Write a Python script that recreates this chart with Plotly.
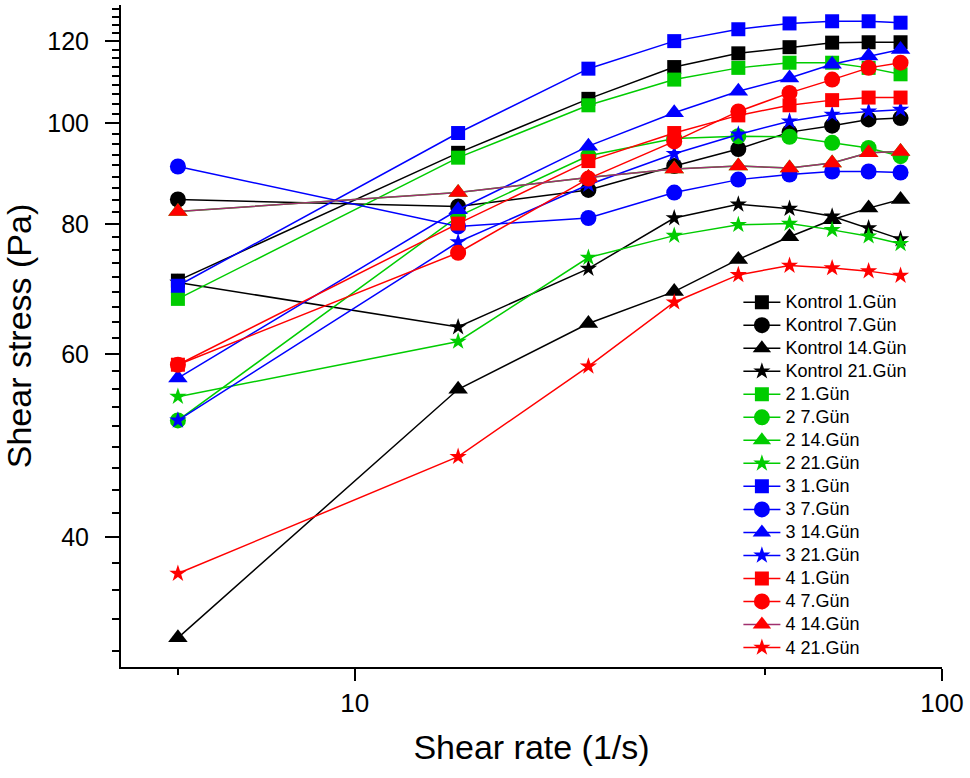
import plotly.graph_objects as go

# Shear rate steps (1/s)
shear_rate = [5, 15, 25, 35, 45, 55, 65, 75, 85]

# Shear stress (Pa) per sample and storage day
kontrol_1 = [70.6, 93.7, 105.6, 113.3, 116.8, 118.4, 119.6, 119.7, 119.7]
kontrol_7 = [84.5, 83.2, 86.3, 91.0, 94.5, 98.1, 99.5, 100.9, 101.2]
kontrol_14 = [32.0, 55.5, 64.2, 68.9, 74.0, 77.8, 80.8, 82.9, 84.5]
kontrol_21 = [70.3, 63.7, 72.5, 81.1, 83.6, 82.8, 81.4, 79.3, 77.4]
s2_1 = [67.8, 92.7, 104.1, 110.2, 113.1, 114.4, 114.4, 113.1, 111.5]
s2_7 = [51.8, 81.4, 93.1, 96.7, 97.2, 97.1, 95.8, 94.7, 93.0]
s2_14 = [82.3, 85.8, 88.7, 90.4, 91.0, 90.6, 91.6, 93.7, 94.0]
s2_21 = [54.6, 61.7, 74.3, 78.0, 79.9, 80.1, 79.0, 77.9, 76.6]
s3_1 = [69.8, 97.9, 112.9, 120.0, 123.2, 124.8, 125.4, 125.4, 125.0]
s3_7 = [90.9, 79.6, 81.1, 85.8, 88.3, 89.3, 89.9, 89.9, 89.7]
s3_14 = [56.9, 82.6, 95.1, 102.4, 107.4, 110.6, 114.0, 116.1, 117.8]
s3_21 = [51.8, 76.9, 87.3, 93.5, 97.6, 100.5, 102.0, 102.7, 103.1]
s4_1 = [58.6, 80.1, 92.0, 97.9, 101.8, 104.1, 105.3, 105.9, 105.9]
s4_7 = [58.6, 75.1, 88.5, 96.1, 102.7, 107.0, 110.2, 113.1, 114.4]
s4_14 = [82.3, 85.8, 88.7, 90.4, 91.0, 90.6, 91.6, 93.7, 94.0]
s4_21 = [36.9, 47.8, 58.4, 67.3, 71.5, 73.0, 72.6, 72.1, 71.4]

x_ticks = [10, 100]
x_minor = [5, 50]
y_ticks = [40, 60, 80, 100, 120]

BLACK = "#000000"
GREEN = "#00CC00"
BLUE = "#0000FF"
RED = "#FF0000"
WINE = "#A0306E"

series = [
    ("Kontrol 1.Gün", kontrol_1, BLACK, BLACK, "square"),
    ("Kontrol 7.Gün", kontrol_7, BLACK, BLACK, "circle"),
    ("Kontrol 14.Gün", kontrol_14, BLACK, BLACK, "triangle-up"),
    ("Kontrol 21.Gün", kontrol_21, BLACK, BLACK, "star"),
    ("2 1.Gün", s2_1, GREEN, GREEN, "square"),
    ("2 7.Gün", s2_7, GREEN, GREEN, "circle"),
    ("2 14.Gün", s2_14, GREEN, GREEN, "triangle-up"),
    ("2 21.Gün", s2_21, GREEN, GREEN, "star"),
    ("3 1.Gün", s3_1, BLUE, BLUE, "square"),
    ("3 7.Gün", s3_7, BLUE, BLUE, "circle"),
    ("3 14.Gün", s3_14, BLUE, BLUE, "triangle-up"),
    ("3 21.Gün", s3_21, BLUE, BLUE, "star"),
    ("4 1.Gün", s4_1, RED, RED, "square"),
    ("4 7.Gün", s4_7, RED, RED, "circle"),
    ("4 14.Gün", s4_14, WINE, RED, "triangle-up"),
    ("4 21.Gün", s4_21, RED, RED, "star"),
]

marker_size = {"square": 14, "circle": 16, "triangle-up": 17, "star": 13}

fig = go.Figure()
for name, values, line_color, marker_color, symbol in series:
    fig.add_trace(go.Scatter(
        x=shear_rate, y=values,
        # legend rows are spaced by the legend font; the label itself is set a bit larger
        name=f'<span style="font-size:18px">{name}</span>',
        mode="lines+markers",
        line=dict(color=line_color, width=1.5),
        marker=dict(symbol=symbol, size=marker_size[symbol], color=marker_color,
                    line=dict(width=0)),
    ))

# minor ticks on the stress axis: eight subdivisions per 20 Pa step
y_minor = []
for base in range(20, 140, 20):
    for j in range(1, 9):
        v = base + 20 * j / 9
        if 30 <= v <= 130:
            y_minor.append(v)

font_family = "Arial, Liberation Sans, sans-serif"

fig.update_layout(
    width=970, height=778,
    margin=dict(l=121, r=28, t=5, b=111),
    paper_bgcolor="white", plot_bgcolor="white",
    font=dict(family=font_family, color="black"),
    showlegend=True,
    legend=dict(
        x=0.752, y=0.576, xanchor="left", yanchor="top",
        bgcolor="rgba(0,0,0,0)", borderwidth=0,
        font=dict(size=15.4, family=font_family),
        itemwidth=37, tracegroupgap=0,
    ),
    xaxis=dict(
        type="log", range=[0.60206, 2.0], automargin=False,
        showline=True, linecolor="black", linewidth=2,
        showgrid=False, zeroline=False,
        ticks="outside", ticklen=12, tickwidth=2, tickcolor="black",
        tickmode="array", tickvals=x_ticks, ticktext=[str(t) for t in x_ticks],
        tickfont=dict(size=26),
        minor=dict(tickmode="array", tickvals=x_minor, ticks="outside",
                   ticklen=6, tickwidth=2, tickcolor="black", showgrid=False),
        title=dict(text="Shear rate (1/s)", font=dict(size=34), standoff=18),
    ),
    yaxis=dict(
        type="log", range=[1.47712, 2.11394], automargin=False,
        showline=True, linecolor="black", linewidth=2,
        showgrid=False, zeroline=False,
        ticks="outside", ticklen=14, tickwidth=2, tickcolor="black",
        ticklabelstandoff=11,
        tickmode="array", tickvals=y_ticks, ticktext=[str(t) for t in y_ticks],
        tickfont=dict(size=25),
        minor=dict(tickmode="array", tickvals=y_minor, ticks="outside",
                   ticklen=7, tickwidth=2, tickcolor="black", showgrid=False),
        title=dict(text="Shear stress (Pa)", font=dict(size=34), standoff=12),
    ),
)

fig.write_html("out.html")
